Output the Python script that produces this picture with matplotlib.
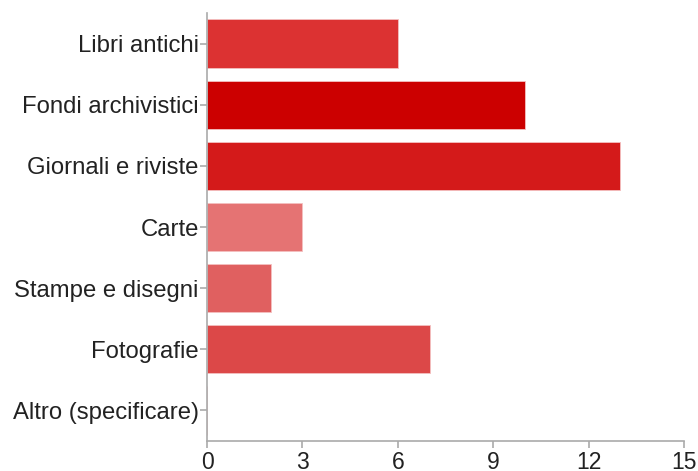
import matplotlib
matplotlib.use('Agg')
import matplotlib.pyplot as plt

categories = ['Libri antichi', 'Fondi archivistici', 'Giornali e riviste', 'Carte',
              'Stampe e disegni', 'Fotografie', 'Altro (specificare)']
values = [6, 10, 13, 3, 2, 7, 0]
colors = ['#dc3232', '#cc0000', '#d41a1a', '#e57373', '#e06060', '#dc4848', '#dc4848']
x_ticks = [0, 3, 6, 9, 12, 15]

plt.rcParams['font.family'] = ['Liberation Sans', 'DejaVu Sans']

fig = plt.figure(figsize=(6.98, 4.71), dpi=100)
ax = fig.add_axes([207 / 698, 30 / 471, 477 / 698, 428 / 471])

pos = list(range(len(categories)))
ax.barh(pos, values, height=0.79, color=colors, edgecolor='#f4c0c0', linewidth=0.6)
ax.set_ylim(len(categories) - 0.5, -0.5)
ax.set_xlim(0, 15)
ax.set_yticks(pos)
ax.set_yticklabels(categories, fontsize=17.2, color='#222222')
ax.set_xticks(x_ticks)
ax.set_xticklabels([str(t) for t in x_ticks], fontsize=16.5, color='#222222')

for s in ['top', 'right']:
    ax.spines[s].set_visible(False)
for s in ['left', 'bottom']:
    ax.spines[s].set_color('#aaaaaa')
    ax.spines[s].set_linewidth(1.2)
ax.tick_params(axis='both', color='#aaaaaa', length=5, width=1.2)
ax.tick_params(axis='y', pad=1)
ax.tick_params(axis='x', pad=2.5)

fig.savefig('out.png', dpi=100)
